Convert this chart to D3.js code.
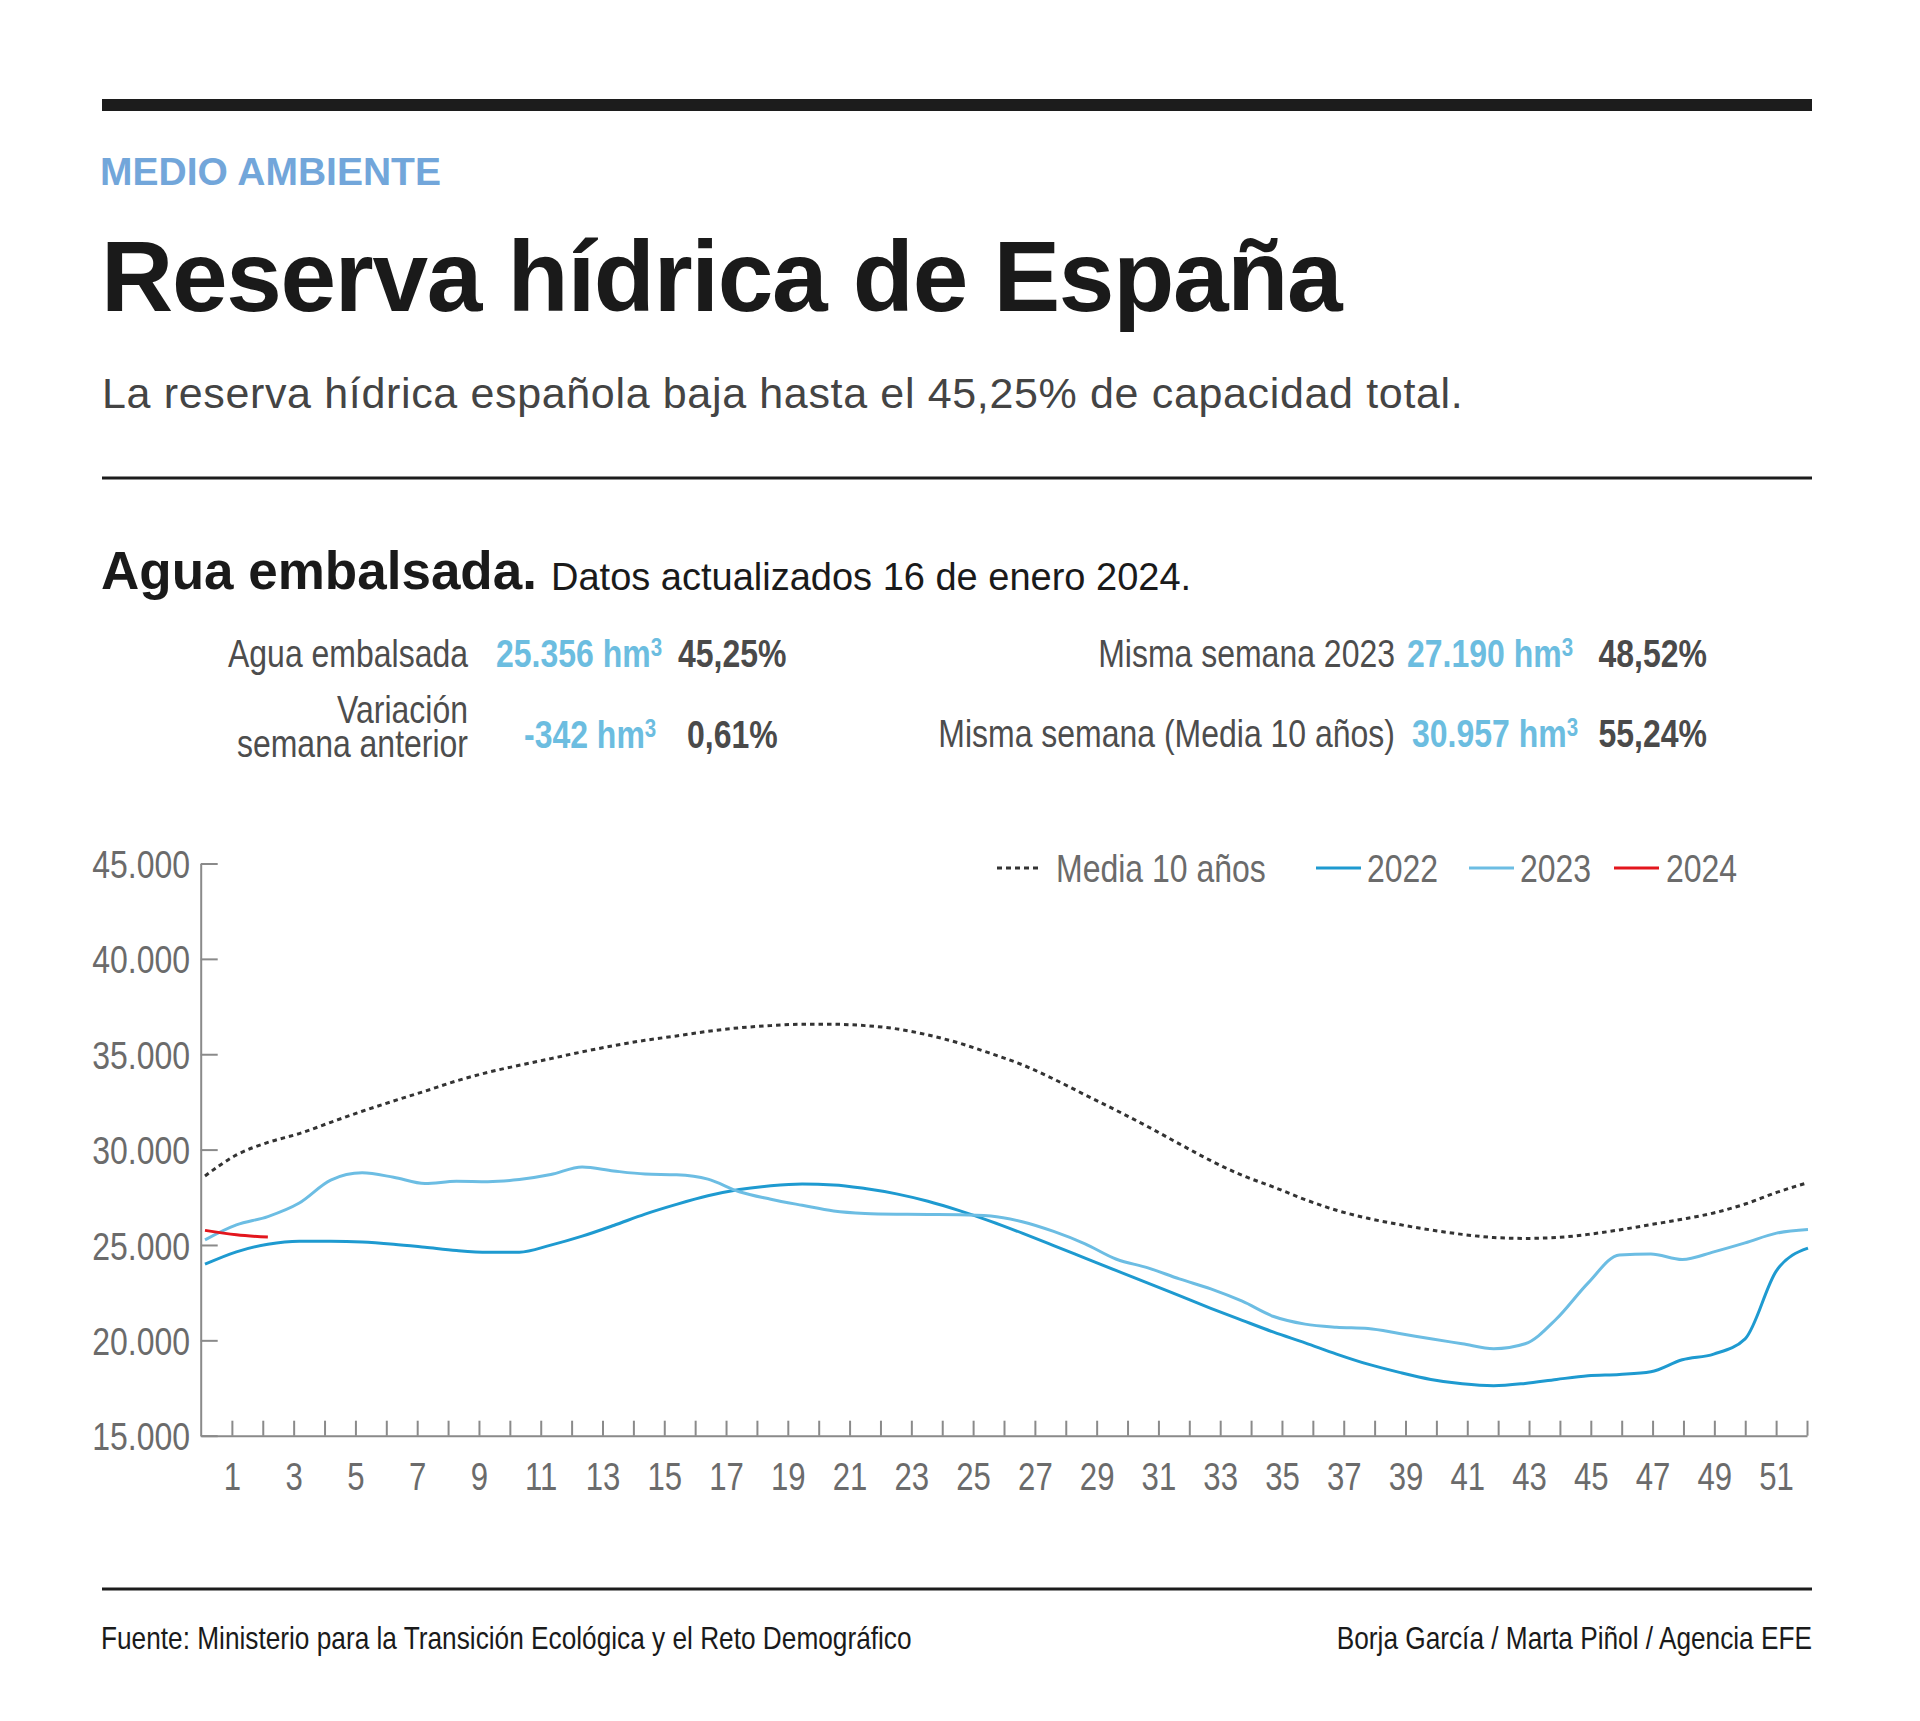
<!DOCTYPE html>
<html lang="es">
<head>
<meta charset="utf-8">
<script src="https://cdn.jsdelivr.net/npm/d3@7"></script>
<style>
  html, body { margin: 0; padding: 0; background: #ffffff; }
  svg { display: block; }
</style>
</head>
<body>
<script>
// ---------------- DATA ----------------
const weeks = [1,2,3,4,5,6,7,8,9,10,11,12,13,14,15,16,17,18,19,20,21,22,23,24,25,26,
               27,28,29,30,31,32,33,34,35,36,37,38,39,40,41,42,43,44,45,46,47,48,49,50,51,52];
const media10 = [28620,29720,30375,30840,31430,32010,32550,33065,33600,34050,
                 34420,34770,35125,35450,35730,35960,36200,36385,36500,36570,
                 36570,36500,36330,36010,35580,35040,34450,33700,32870,32050,
                 31200,30300,29420,28650,28035,27380,26818,26397,26069,25789,
                 25555,25391,25344,25391,25555,25789,26069,26350,26678,27146,27754,28269];
const y2022 = [23990,24640,25040,25200,25200,25160,25040,24880,24710,24620,
               24620,24990,25460,26020,26620,27130,27580,27910,28100,28190,
               28150,27960,27680,27290,26800,26240,25620,24970,24310,23650,
               23000,22340,21680,21050,20430,19870,19280,18750,18320,17950,
               17720,17620,17740,17950,18140,18210,18350,18980,19280,20080,23660,24830];
const y2023 = [25270,26050,26490,27200,28400,28780,28550,28220,28340,28320,
               28430,28690,29090,28880,28720,28680,28450,27790,27400,27080,
               26780,26650,26610,26600,26590,26520,26220,25710,25060,24250,
               23800,23220,22700,22050,21250,20850,20690,20620,20360,20080,
               19820,19560,19820,21130,23000,24480,24530,24240,24640,25110,25620,25810];
const y2024 = [25765,25530,25415];
const yTicks = [15000,20000,25000,30000,35000,40000,45000];
const xTickLabels = [1,3,5,7,9,11,13,15,17,19,21,23,25,27,29,31,33,35,37,39,41,43,45,47,49,51];

const seriesNames = ["Media 10 años","2022","2023","2024"];
const seriesColors = ["#333333","#1e9ad0","#6cbde3","#e3161d"];

const statsLeft = [
  {label:["Agua embalsada"], value:"25.356 hm", pct:"45,25%"},
  {label:["Variación","semana anterior"], value:"-342 hm", pct:"0,61%"}
];
const statsRight = [
  {label:"Misma semana 2023", value:"27.190 hm", pct:"48,52%"},
  {label:"Misma semana (Media 10 años)", value:"30.957 hm", pct:"55,24%"}
];

// ---------------- SETUP ----------------
const W = 1920, H = 1721;
const SANS = "'Liberation Sans', Arial, Helvetica, sans-serif";
const NARROW = SANS;       // condensed look obtained by horizontal scaling
const K = 0.82;            // condensation factor
const svg = d3.select("body").append("svg").attr("width", W).attr("height", H);
svg.append("rect").attr("width", W).attr("height", H).attr("fill", "#fff");

function condense(sel) {
  sel.each(function () {
    const t = d3.select(this);
    const x = +t.attr("x") || 0, y = +t.attr("y") || 0;
    t.attr("transform", `translate(${x},${y}) scale(${K},1) translate(${-x},${-y})`);
  });
  return sel;
}

// header
svg.append("rect").attr("x",102).attr("y",99).attr("width",1710).attr("height",12).attr("fill","#1c1c1c");
svg.append("text").attr("x",100).attr("y",185).attr("font-family",SANS).attr("font-weight","bold")
  .attr("font-size",39).attr("fill","#72a6da").text("MEDIO AMBIENTE");
svg.append("text").attr("x",101).attr("y",311).attr("font-family",SANS).attr("font-weight","bold")
  .attr("font-size",100).attr("letter-spacing",-1.3).attr("fill","#1a1a1a").text("Reserva hídrica de España");
svg.append("text").attr("x",102).attr("y",408).attr("font-family",SANS)
  .attr("font-size",43).attr("letter-spacing",0.65).attr("fill","#444444")
  .text("La reserva hídrica española baja hasta el 45,25% de capacidad total.");
svg.append("rect").attr("x",102).attr("y",476.5).attr("width",1710).attr("height",3).attr("fill","#1c1c1c");

// section title
svg.append("text").attr("x",101).attr("y",589).attr("font-family",SANS).attr("font-weight","bold")
  .attr("font-size",53).attr("fill","#1a1a1a").text("Agua embalsada.");
svg.append("text").attr("x",551).attr("y",590).attr("font-family",SANS)
  .attr("font-size",38).attr("fill","#1a1a1a").text("Datos actualizados 16 de enero 2024.");

// stats
function valueText(x, y, str, anchor) {
  const t = svg.append("text").attr("x",x).attr("y",y).attr("font-family",NARROW)
    .attr("font-weight","bold").attr("font-size",39).attr("fill","#6cbde0")
    .attr("text-anchor", anchor || "start");
  t.append("tspan").text(str);
  t.append("tspan").attr("font-size",25).attr("dy",-11).text("3");
  condense(t);
}
function labelText(x, y, str, anchor) {
  condense(svg.append("text").attr("x",x).attr("y",y).attr("font-family",NARROW)
    .attr("font-size",39).attr("fill","#4d4d4d").attr("text-anchor",anchor).text(str));
}
function pctText(x, y, str, anchor) {
  condense(svg.append("text").attr("x",x).attr("y",y).attr("font-family",NARROW).attr("font-weight","bold")
    .attr("font-size",39).attr("fill","#4a4a4a").attr("text-anchor",anchor || "start").text(str));
}
// left column
labelText(468, 667.5, statsLeft[0].label[0], "end");
valueText(496, 667.5, statsLeft[0].value);
pctText(678, 667.5, statsLeft[0].pct);
labelText(468, 723, statsLeft[1].label[0], "end");
labelText(468, 757, statsLeft[1].label[1], "end");
valueText(524, 748, statsLeft[1].value);
pctText(687, 748, statsLeft[1].pct);
// right column
labelText(1395, 667.5, statsRight[0].label, "end");
valueText(1407, 667.5, statsRight[0].value);
pctText(1707, 667.5, statsRight[0].pct, "end");
labelText(1395, 747.5, statsRight[1].label, "end");
valueText(1412, 747.5, statsRight[1].value);
pctText(1707, 747.5, statsRight[1].pct, "end");

// ---------------- CHART ----------------
const yScale = d3.scaleLinear().domain([15000,45000]).range([1435.7, 863.5]);
const xAxisScale = d3.scaleLinear().domain([0,52]).range([201, 1807]);
const xData = d3.scaleLinear().domain([1,52]).range([205, 1808]);

const axisColor = "#8a8a8a";
const labelColor = "#6b6b6b";

// y axis
const gy = svg.append("g").attr("transform","translate(200.7,0)")
  .call(d3.axisLeft(yScale).tickValues(yTicks).tickSize(-17).tickSizeOuter(0).tickPadding(10.7)
        .tickFormat(d => d3.format(",")(d).replace(/,/g,".")));
gy.select(".domain").attr("stroke",axisColor).attr("stroke-width",2);
gy.selectAll(".tick line").attr("stroke",axisColor).attr("stroke-width",2);
condense(gy.selectAll(".tick text").attr("font-family",NARROW).attr("font-size",39).attr("fill",labelColor)
  .attr("dy","0.36em"));

// x axis
const gx = svg.append("g").attr("transform","translate(0,1435.7)")
  .call(d3.axisBottom(xAxisScale).tickValues(weeks).tickSize(-15).tickSizeOuter(0).tickPadding(40)
        .tickFormat(d => xTickLabels.includes(d) ? String(d) : ""));
gx.select(".domain").attr("stroke",axisColor).attr("stroke-width",2);
gx.selectAll(".tick line").attr("stroke",axisColor).attr("stroke-width",2);
condense(gx.selectAll(".tick text").attr("font-family",NARROW).attr("font-size",38).attr("fill",labelColor)
  .attr("dy","0").attr("y",54.3));

// lines
const line = d3.line().x((d,i) => xData(weeks[i])).y(d => yScale(d)).curve(d3.curveMonotoneX);
svg.append("path").datum(media10).attr("d",line).attr("fill","none").attr("stroke",seriesColors[0])
  .attr("stroke-width",3).attr("stroke-dasharray","4.5,4");
svg.append("path").datum(y2022).attr("d",line).attr("fill","none").attr("stroke",seriesColors[1])
  .attr("stroke-width",3);
svg.append("path").datum(y2023).attr("d",line).attr("fill","none").attr("stroke",seriesColors[2])
  .attr("stroke-width",3);
svg.append("path").datum(y2024).attr("d",line).attr("fill","none").attr("stroke",seriesColors[3])
  .attr("stroke-width",3);

// legend
const legendItems = [
  {x1:997, x2:1042, tx:1056},
  {x1:1316, x2:1361, tx:1367},
  {x1:1469, x2:1514, tx:1520},
  {x1:1614, x2:1659, tx:1666}
];
legendItems.forEach((p,i) => {
  svg.append("line").attr("x1",p.x1).attr("x2",p.x2).attr("y1",868).attr("y2",868)
    .attr("stroke",seriesColors[i]).attr("stroke-width",3)
    .attr("stroke-dasharray", i === 0 ? "5,4" : null);
  condense(svg.append("text").attr("x",p.tx).attr("y",882).attr("font-family",NARROW).attr("font-size",39)
    .attr("fill",labelColor).text(seriesNames[i]));
});

// footer
svg.append("rect").attr("x",102).attr("y",1587.5).attr("width",1710).attr("height",3).attr("fill","#1c1c1c");
condense(svg.append("text").attr("x",101).attr("y",1649).attr("font-family",NARROW).attr("font-size",32)
  .attr("fill","#1a1a1a").text("Fuente: Ministerio para la Transición Ecológica y el Reto Demográfico"));
condense(svg.append("text").attr("x",1812).attr("y",1649).attr("font-family",NARROW).attr("font-size",32)
  .attr("fill","#1a1a1a").attr("text-anchor","end").text("Borja García / Marta Piñol / Agencia EFE"));
</script>
</body>
</html>
